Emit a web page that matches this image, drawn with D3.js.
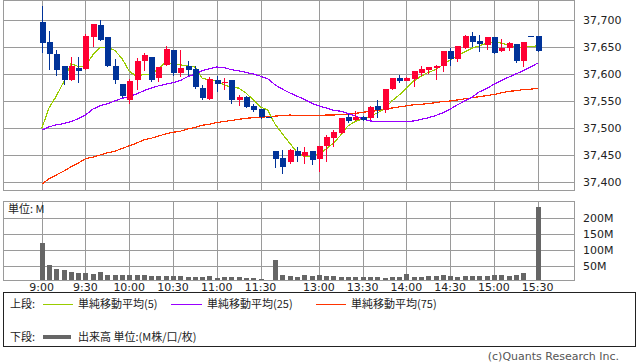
<!DOCTYPE html>
<html>
<head>
<meta charset="utf-8">
<script src="https://cdn.jsdelivr.net/npm/d3@7"></script>
<style>
  body { margin: 0; background: #fff; }
  text { font-family: "DejaVu Sans", "Noto Sans CJK JP", sans-serif; fill: #222; }
  .jp { font-family: "Noto Sans CJK JP", "DejaVu Sans", sans-serif; }
</style>
</head>
<body>
<div id="chart"></div>
<script>
// 5-minute bars, index 0 = 9:00 ... index 68 = 15:30
const tickLabels = ["9:00", "9:30", "10:00", "10:30", "11:00", "11:30", "13:00", "13:30", "14:00", "14:30", "15:00", "15:30"];
const tickIndex = [0, 6, 12, 18, 24, 30, 38, 44, 50, 56, 62, 68];

const open = [37696, 37659, 37637, 37614, 37589, 37612, 37609, 37669, 37691, 37669,
  37615, 37581, 37552, 37588, 37624, 37631, 37592, 37617, 37644, 37601,
  37614, 37609, 37575, 37554, 37589, 37585, 37588, 37551, 37557, 37541,
  37535, 37520, 37457, 37444, 37436, 37457, 37447, 37457, 37443, 37467,
  37481, 37491, 37520, 37514, 37521, 37517, 37541, 37533, 37572, 37593,
  37588, 37591, 37602, 37607, 37611, 37615, 37643, 37627, 37649, 37671,
  37662, 37655, 37669, 37643, 37649, 37656, 37624, 37670, 37670];
const high = [37726, 37680, 37644, 37615, 37631, 37632, 37675, 37693, 37700, 37669,
  37627, 37581, 37590, 37630, 37638, 37631, 37613, 37652, 37644, 37644,
  37624, 37615, 37580, 37594, 37596, 37592, 37589, 37562, 37559, 37544,
  37535, 37520, 37457, 37459, 37462, 37465, 37464, 37457, 37467, 37487,
  37496, 37518, 37525, 37531, 37522, 37541, 37552, 37572, 37592, 37598,
  37594, 37606, 37614, 37613, 37617, 37643, 37649, 37651, 37672, 37678,
  37673, 37669, 37669, 37665, 37659, 37656, 37659, 37670, 37670];
const low = [37641, 37609, 37598, 37581, 37589, 37586, 37609, 37652, 37663, 37615,
  37583, 37558, 37547, 37572, 37607, 37587, 37587, 37617, 37598, 37596,
  37598, 37575, 37554, 37554, 37569, 37573, 37547, 37543, 37538, 37532,
  37519, 37520, 37427, 37417, 37436, 37439, 37436, 37433, 37421, 37439,
  37467, 37491, 37512, 37514, 37515, 37517, 37520, 37530, 37572, 37586,
  37588, 37578, 37598, 37601, 37591, 37606, 37617, 37625, 37649, 37651,
  37643, 37646, 37639, 37643, 37644, 37622, 37615, 37670, 37643];
const close = [37658, 37636, 37607, 37588, 37615, 37607, 37670, 37693, 37663, 37615,
  37589, 37559, 37587, 37624, 37635, 37589, 37613, 37646, 37602, 37611,
  37606, 37575, 37556, 37591, 37581, 37586, 37551, 37557, 37539, 37533,
  37521, 37520, 37443, 37428, 37459, 37447, 37455, 37441, 37467, 37484,
  37493, 37518, 37512, 37520, 37516, 37538, 37533, 37572, 37592, 37588,
  37593, 37606, 37609, 37613, 37615, 37643, 37628, 37651, 37671, 37660,
  37657, 37669, 37640, 37649, 37658, 37624, 37659, 37670, 37643];

// moving averages as drawn (include previous session data)
const ma5 = [37499, 37537, 37559, 37585, 37619, 37614, 37615, 37635, 37649, 37649,
  37644, 37629, 37605, 37596, 37599, 37600, 37609, 37622, 37619, 37617,
  37615, 37613, 37592, 37589, 37587, 37580, 37575, 37574, 37565, 37552,
  37539, 37533, 37507, 37489, 37472, 37455, 37447, 37447, 37452, 37461,
  37472, 37487, 37504, 37512, 37517, 37521, 37528, 37535, 37550, 37561,
  37574, 37587, 37596, 37603, 37608, 37617, 37626, 37633, 37641, 37648,
  37652, 37657, 37660, 37657, 37654, 37650, 37649, 37651, 37652];
const ma25 = [37496, 37502, 37506, 37508, 37512, 37517, 37524, 37535, 37541, 37545,
  37550, 37555, 37558, 37563, 37569, 37574, 37578, 37581, 37584, 37588,
  37595, 37600, 37606, 37610, 37613, 37612, 37608, 37606, 37603, 37600,
  37596, 37591, 37580, 37572, 37565, 37559, 37553, 37546, 37541, 37537,
  37533, 37531, 37527, 37522, 37517, 37513, 37512, 37512, 37512, 37512,
  37512, 37513, 37516, 37519, 37523, 37528, 37535, 37543, 37550, 37557,
  37567, 37573, 37581, 37588, 37594, 37600, 37606, 37613, 37620];
const ma75 = [37396, 37406, 37413, 37420, 37428, 37435, 37443, 37446, 37450, 37454,
  37457, 37462, 37467, 37472, 37478, 37481, 37485, 37489, 37492, 37494,
  37498, 37501, 37505, 37507, 37510, 37512, 37514, 37516, 37518, 37519,
  37520, 37521, 37522, 37523, 37524, 37523, 37523, 37523, 37523, 37524,
  37524, 37525, 37526, 37527, 37529, 37531, 37532, 37535, 37537, 37539,
  37541, 37543, 37544, 37545, 37547, 37549, 37550, 37552, 37554, 37556,
  37558, 37560, 37562, 37565, 37568, 37569, 37571, 37572, 37573];

// volume in millions
const volume = [121, 52, 39, 35, 30, 27, 27, 23, 30, 20,
  20, 20, 20, 20, 20, 17, 17, 17, 17, 17,
  14, 14, 14, 17, 11, 14, 14, 14, 11, 11,
  8, 0, 67, 20, 17, 14, 20, 17, 20, 17,
  17, 14, 14, 14, 14, 14, 14, 11, 14, 14,
  23, 14, 14, 17, 17, 20, 17, 14, 17, 17,
  17, 17, 20, 20, 17, 20, 27, 0, 233];

const priceTicks = [37400, 37450, 37500, 37550, 37600, 37650, 37700];
const volTicks = [50, 100, 150, 200];

const W = 638, H = 362;
const left = 3, right = 574;
const priceTop = 0.5, priceBottom = 190.5;
const volTop = 201.5, volBottom = 280.5;

const svg = d3.select("#chart").append("svg")
  .attr("width", W).attr("height", H);

const x = d3.scaleLinear().domain([0, 68]).range([41.7, 537.7]);
const y = d3.scaleLinear().domain([37400, 37700]).range([182, 20]);
const yv = d3.scaleLinear().domain([0, 250]).range([281.5, 201.5]);

const gridColor = "#9a9a9a";
const px = v => Math.round(v) + 0.5;

// ---- price panel grid
const gp = svg.append("g").attr("shape-rendering", "crispEdges");
gp.selectAll("line.h").data(priceTicks).enter().append("line")
  .attr("x1", left).attr("x2", right)
  .attr("y1", d => px(y(d))).attr("y2", d => px(y(d)))
  .attr("stroke", gridColor);
gp.selectAll("line.v").data(tickIndex).enter().append("line")
  .attr("x1", d => px(x(d))).attr("x2", d => px(x(d)))
  .attr("y1", priceTop).attr("y2", priceBottom)
  .attr("stroke", gridColor);
gp.append("rect").attr("x", left + 0.5).attr("y", priceTop)
  .attr("width", right - left).attr("height", priceBottom - priceTop)
  .attr("fill", "none").attr("stroke", gridColor);

svg.selectAll("text.py").data(priceTicks).enter().append("text")
  .attr("x", 583).attr("y", d => y(d) + 4)
  .attr("font-size", "11px")
  .text(d => d3.format(",")(d));

// ---- moving average lines (aliased, like the original)
const line = d3.line().x((d, i) => x(i)).y(d => y(d));
[[ma75, "#ff3300"], [ma25, "#9900ff"], [ma5, "#99cc00"]].forEach(([s, c]) => {
  svg.append("path").datum(s)
    .attr("d", line)
    .attr("fill", "none")
    .attr("stroke", c)
    .attr("stroke-width", 1.2)
    .attr("shape-rendering", "crispEdges");
});

// ---- candles
const idx = d3.range(open.length);
const up = i => close[i] > open[i];
const cg = svg.append("g").attr("shape-rendering", "crispEdges");
cg.selectAll("line.wick").data(idx).enter().append("line")
  .attr("x1", i => px(x(i))).attr("x2", i => px(x(i)))
  .attr("y1", i => Math.round(y(high[i]))).attr("y2", i => Math.round(y(low[i])) + 1)
  .attr("stroke", i => up(i) ? "#ff0033" : "#003399");
cg.selectAll("rect.body").data(idx).enter().append("rect")
  .attr("x", i => Math.round(x(i)) - 2)
  .attr("width", 6)
  .attr("y", i => Math.round(y(Math.max(open[i], close[i]))))
  .attr("height", i => Math.max(1, Math.round(Math.abs(y(open[i]) - y(close[i])))))
  .attr("fill", i => up(i) ? "#ff0033" : "#003399");

// ---- volume panel
const gv = svg.append("g").attr("shape-rendering", "crispEdges");
gv.selectAll("line.h").data(volTicks).enter().append("line")
  .attr("x1", left).attr("x2", right)
  .attr("y1", d => px(yv(d))).attr("y2", d => px(yv(d)))
  .attr("stroke", gridColor);
gv.selectAll("line.v").data(tickIndex).enter().append("line")
  .attr("x1", d => px(x(d))).attr("x2", d => px(x(d)))
  .attr("y1", volTop).attr("y2", volBottom)
  .attr("stroke", gridColor);

gv.selectAll("rect.vol").data(idx.filter(i => volume[i] > 0)).enter().append("rect")
  .attr("x", i => Math.round(x(i)) - 2)
  .attr("width", 5)
  .attr("y", i => Math.round(yv(volume[i])))
  .attr("height", i => volBottom - Math.round(yv(volume[i])))
  .attr("fill", "#666");

gv.append("rect").attr("x", left + 0.5).attr("y", volTop)
  .attr("width", right - left).attr("height", volBottom - volTop)
  .attr("fill", "none").attr("stroke", gridColor);

svg.selectAll("text.vy").data(volTicks).enter().append("text")
  .attr("x", 583).attr("y", d => yv(d) + 4)
  .attr("font-size", "11px")
  .text(d => d + "M");

svg.append("text").attr("class", "jp")
  .attr("x", 8).attr("y", 213).attr("font-size", "11px")
  .text("単位: M");

// ---- time axis labels
svg.selectAll("text.tx").data(tickIndex).enter().append("text")
  .attr("x", d => x(d)).attr("y", 291)
  .attr("text-anchor", "middle")
  .attr("font-size", "11px")
  .text((d, i) => tickLabels[i]);

// ---- legend
const lg = svg.append("g");
lg.append("rect").attr("x", 3.5).attr("y", 292.5).attr("width", 632).attr("height", 54)
  .attr("fill", "none").attr("stroke", "#222").attr("shape-rendering", "crispEdges");

const legendItems = [
  { label: "単純移動平均(5)", color: "#99cc00", x1: 43, x2: 73, tx: 78 },
  { label: "単純移動平均(25)", color: "#9900ff", x1: 171, x2: 202, tx: 207 },
  { label: "単純移動平均(75)", color: "#ff3300", x1: 316, x2: 346, tx: 351 }
];
lg.append("text").attr("class", "jp").attr("x", 10).attr("y", 308)
  .attr("font-size", "11px").text("上段:");
legendItems.forEach(d => {
  lg.append("line").attr("x1", d.x1).attr("x2", d.x2).attr("y1", 304.5).attr("y2", 304.5)
    .attr("stroke", d.color).attr("stroke-width", 1);
  lg.append("text").attr("class", "jp").attr("x", d.tx).attr("y", 308)
    .attr("font-size", "11px").text(d.label);
});
lg.append("text").attr("class", "jp").attr("x", 10).attr("y", 341)
  .attr("font-size", "11px").text("下段:");
lg.append("line").attr("x1", 43).attr("x2", 71).attr("y1", 337).attr("y2", 337)
  .attr("stroke", "#666").attr("stroke-width", 4);
lg.append("text").attr("class", "jp").attr("x", 78).attr("y", 341)
  .attr("font-size", "11px").text("出来高 単位:(M株/口/枚)");

svg.append("text")
  .attr("x", 619).attr("y", 360).attr("text-anchor", "end")
  .attr("font-size", "11px").style("fill", "#555")
  .text("(c)Quants Research Inc.");
</script>
</body>
</html>
